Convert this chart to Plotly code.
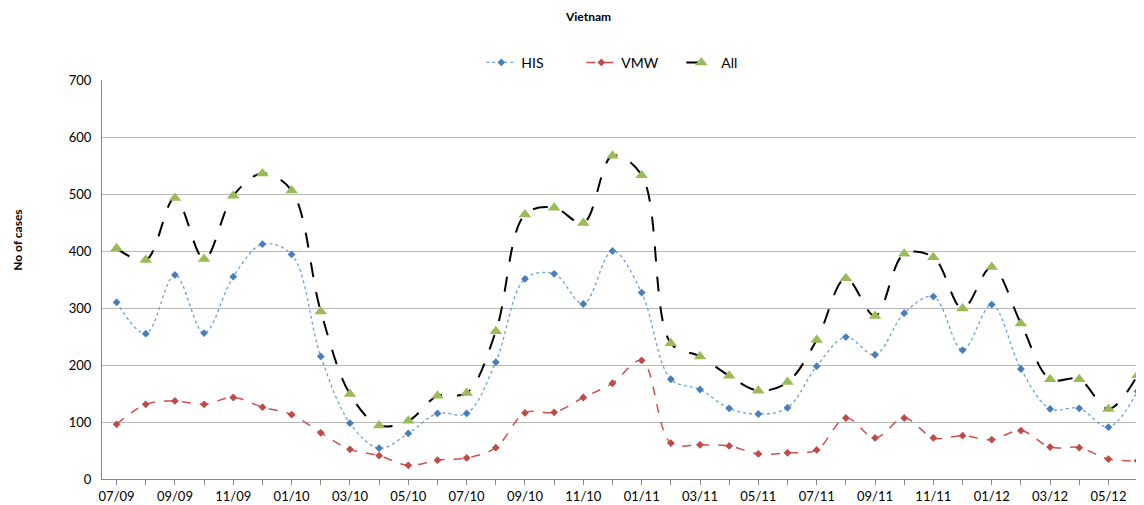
import plotly.graph_objects as go

months = ["07/09","08/09","09/09","10/09","11/09","12/09","01/10","02/10","03/10","04/10","05/10","06/10",
          "07/10","08/10","09/10","10/10","11/10","12/10","01/11","02/11","03/11","04/11","05/11","06/11",
          "07/11","08/11","09/11","10/11","11/11","12/11","01/12","02/12","03/12","04/12","05/12","06/12"]

his = [310, 255, 358, 256, 355, 412, 394, 215, 98, 54, 80, 115,
       115, 205, 351, 360, 307, 400, 327, 175, 157, 124, 114, 125,
       198, 249, 218, 291, 320, 226, 306, 193, 123, 124, 91, 154]
vmw = [96, 131, 137, 131, 143, 126, 113, 81, 52, 41, 24, 33,
       37, 55, 116, 117, 143, 168, 208, 63, 60, 58, 44, 46,
       51, 107, 72, 107, 72, 76, 69, 85, 56, 55, 35, 32]
all_ = [405, 384, 493, 386, 497, 536, 506, 294, 149, 94, 102, 146,
        151, 259, 464, 476, 449, 567, 533, 238, 215, 181, 155, 170,
        244, 352, 286, 395, 389, 299, 372, 273, 175, 175, 123, 182]

ticktext = [m if i % 2 == 0 else "" for i, m in enumerate(months)]

fig = go.Figure()
fig.add_trace(go.Scatter(x=months, y=his, name="HIS", mode="lines+markers",
                         line=dict(color="#6a9fdc", width=1.3, dash="dot", shape="spline", smoothing=1),
                         marker=dict(symbol="diamond", size=6, color="#4a7ebb")))
fig.add_trace(go.Scatter(x=months, y=vmw, name="VMW", mode="lines+markers",
                         line=dict(color="#d0504d", width=1.5, dash="dash", shape="spline", smoothing=1),
                         marker=dict(symbol="diamond", size=6, color="#be4b48")))
fig.add_trace(go.Scatter(x=months, y=all_, name="All", mode="lines+markers",
                         line=dict(color="black", width=2, dash="longdash", shape="spline", smoothing=1),
                         marker=dict(symbol="triangle-up", size=11, color="#9bbb59")))

fig.update_layout(
    width=1136, height=497,
    margin=dict(l=94, r=0, t=72, b=26, autoexpand=False),
    paper_bgcolor="white", plot_bgcolor="white",
    font=dict(family="Lato, Liberation Sans, sans-serif", size=13, color="black"),
    title=dict(text="<b>Vietnam</b>", x=0.511, xanchor="center", y=0.982, yanchor="middle",
               font=dict(size=12)),
    legend=dict(orientation="h", x=0.508, xanchor="center", y=1.043, yanchor="middle",
                font=dict(size=14), traceorder="normal", entrywidth=55, entrywidthmode="pixels"),
    showlegend=True,
    annotations=[dict(text="<b>No of cases</b>", textangle=-90, xref="paper", yref="paper",
                      x=-0.0806, y=0.597, xanchor="center", yanchor="middle",
                      showarrow=False, font=dict(size=12))],
)
fig.update_xaxes(type="category", categoryorder="array", categoryarray=months,
                 tickvals=months, ticktext=ticktext, range=[-0.5, 35.22],
                 showgrid=False, showline=True, linecolor="#868686", linewidth=1,
                 ticks="outside", ticklen=5, tickcolor="#868686", tickfont=dict(size=13))
fig.update_yaxes(range=[0, 700], dtick=100, showgrid=True, gridcolor="#b8b8b8", gridwidth=1,
                 showline=True, linecolor="#868686", linewidth=1, zeroline=False,
                 ticks="outside", ticklen=7, tickcolor="rgba(0,0,0,0)",
                 tickfont=dict(size=13))

fig.write_html("out.html")
